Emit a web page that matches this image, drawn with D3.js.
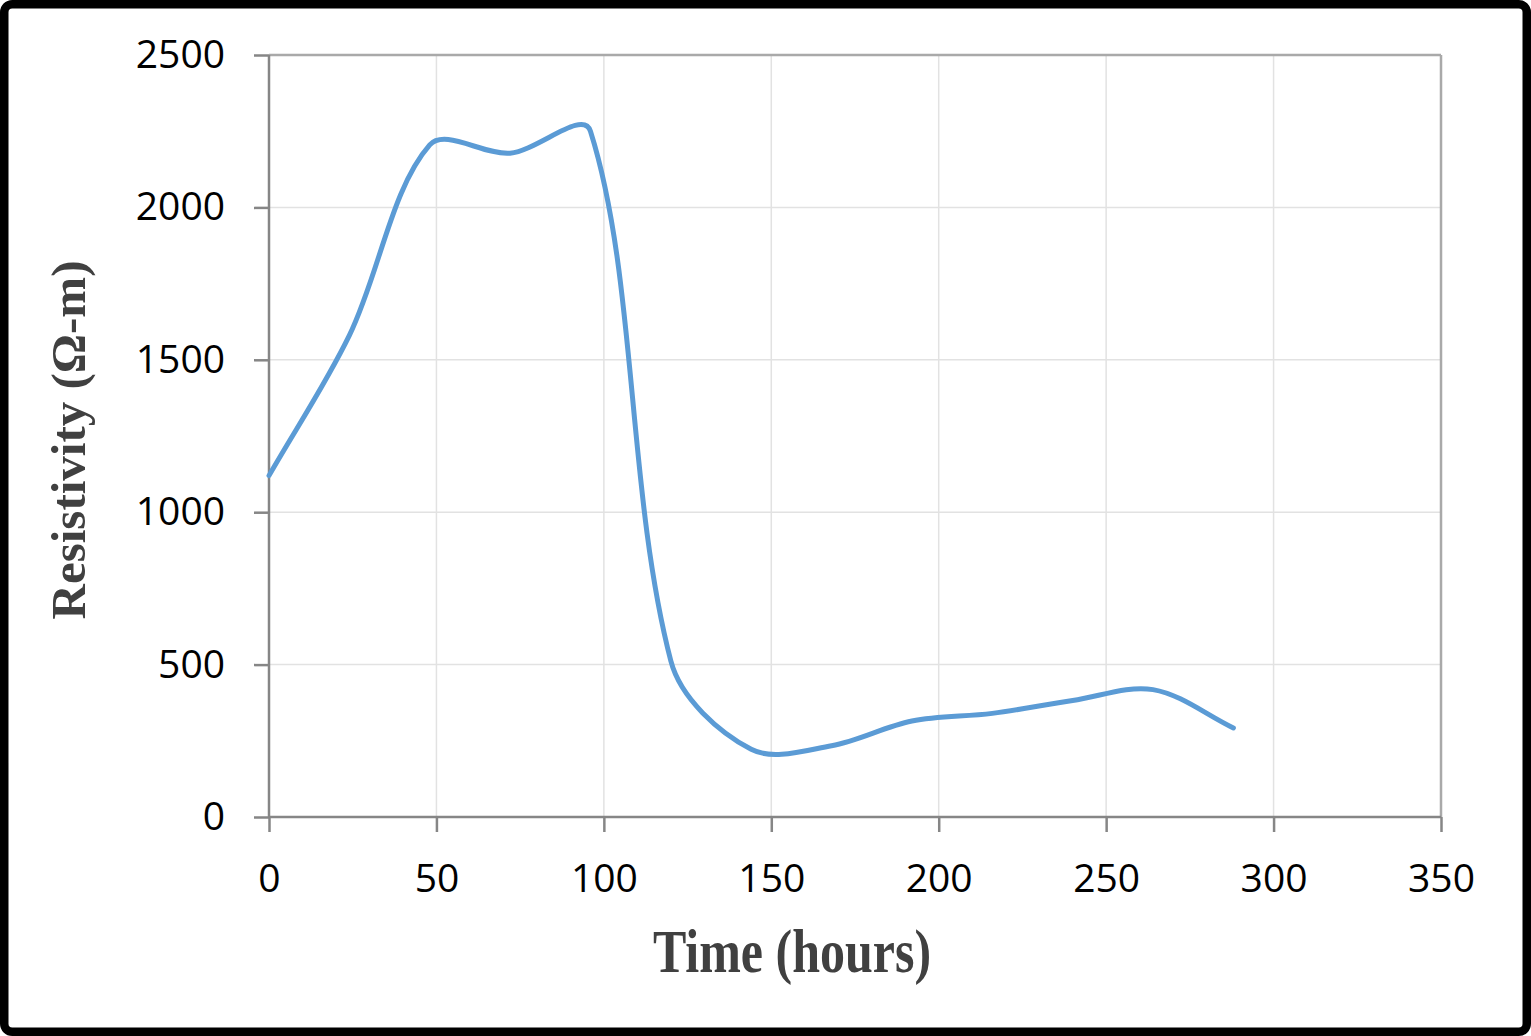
<!DOCTYPE html>
<html>
<head>
<meta charset="utf-8">
<script src="https://cdn.jsdelivr.net/npm/d3@7"></script>
<style>
  html, body { margin: 0; padding: 0; background: #fff; }
  svg { display: block; }
</style>
</head>
<body>
<svg id="chart" width="1531" height="1036"></svg>
<script>
// ---- data ----
const timeHours   = [0, 24, 48, 72, 96, 120, 144, 168, 192, 216, 240, 264, 288];
const resistivity = [1120, 1580, 2205, 2178, 2250, 512, 222, 234, 315, 340, 382, 418, 292];
const xTickValues = [0, 50, 100, 150, 200, 250, 300, 350];
const yTickValues = [0, 500, 1000, 1500, 2000, 2500];
const xTitle = "Time (hours)";
const yTitle = "Resistivity (Ω-m)";

const W = 1531, H = 1036;
const plot = { left: 269, right: 1441, top: 55, bottom: 817 };

const svg = d3.select("#chart");

// outer frame
svg.append("rect")
  .attr("x", 4.25).attr("y", 4.25)
  .attr("width", W - 8.5).attr("height", H - 8.5)
  .attr("rx", 8).attr("ry", 8)
  .attr("fill", "#fff").attr("stroke", "#000").attr("stroke-width", 8.5);

const x = d3.scaleLinear().domain([0, 350]).range([plot.left, plot.right]);
const y = d3.scaleLinear().domain([0, 2500]).range([plot.bottom, plot.top]);

// gridlines
const grid = svg.append("g");
grid.selectAll("line.v").data(xTickValues.filter(d => d > 0 && d < 350)).enter()
  .append("line")
  .attr("x1", d => x(d)).attr("x2", d => x(d))
  .attr("y1", plot.top).attr("y2", plot.bottom)
  .attr("stroke", "#e2e2e2").attr("stroke-width", 1.5);
grid.selectAll("line.h").data(yTickValues.filter(d => d > 0 && d < 2500)).enter()
  .append("line")
  .attr("x1", plot.left).attr("x2", plot.right)
  .attr("y1", d => y(d)).attr("y2", d => y(d))
  .attr("stroke", "#e2e2e2").attr("stroke-width", 1.5);

// plot border top/right
svg.append("line").attr("x1", plot.left).attr("x2", plot.right)
  .attr("y1", plot.top).attr("y2", plot.top)
  .attr("stroke", "#a9a9a9").attr("stroke-width", 2.5);
svg.append("line").attr("x1", plot.right).attr("x2", plot.right)
  .attr("y1", plot.top).attr("y2", plot.bottom)
  .attr("stroke", "#a9a9a9").attr("stroke-width", 2.5);

// axes
const xAxis = d3.axisBottom(x).tickValues(xTickValues).tickSize(15).tickPadding(32).tickFormat(d3.format("d"));
const yAxis = d3.axisLeft(y).tickValues(yTickValues).tickSize(15).tickPadding(29).tickFormat(d3.format("d"));

const gx = svg.append("g").attr("transform", `translate(0,${plot.bottom})`).call(xAxis);
const gy = svg.append("g").attr("transform", `translate(${plot.left},0)`).call(yAxis);

[gx, gy].forEach(g => {
  g.select(".domain").attr("stroke", "#868686").attr("stroke-width", 2.5);
  g.selectAll(".tick line").attr("stroke", "#868686").attr("stroke-width", 2.5);
  g.selectAll(".tick text")
    .attr("fill", "#000")
    .style("font-family", "'Open Sans', 'Noto Sans', sans-serif")
    .style("font-size", "39px");
});
gx.select(".domain").attr("d", `M${plot.left},0H${plot.right}`);
gy.select(".domain").attr("d", `M0,${plot.bottom}V${plot.top}`);
gx.selectAll(".tick text").attr("dy", "0.71em");

// data line: spreadsheet-style smoothed Bezier (chord-weighted tangents)
function smoothPath(points) {
  const p = d3.path();
  const n = points.length;
  const dist = (a, b) => Math.hypot(b[0] - a[0], b[1] - a[1]);
  p.moveTo(points[0][0], points[0][1]);
  for (let i = 0; i < n - 1; i++) {
    const p0 = points[Math.max(0, i - 1)];
    const p1 = points[i];
    const p2 = points[i + 1];
    const p3 = points[Math.min(n - 1, i + 2)];
    const d01 = dist(p0, p1), d12 = dist(p1, p2), d23 = dist(p2, p3);
    const f1 = (d01 + d12) > 0 ? (1 / 3) * d12 / (d01 + d12) : 0;
    const f2 = (d12 + d23) > 0 ? (1 / 3) * d12 / (d12 + d23) : 0;
    const c1 = [p1[0] + f1 * (p2[0] - p0[0]), p1[1] + f1 * (p2[1] - p0[1])];
    const c2 = [p2[0] - f2 * (p3[0] - p1[0]), p2[1] - f2 * (p3[1] - p1[1])];
    p.bezierCurveTo(c1[0], c1[1], c2[0], c2[1], p2[0], p2[1]);
  }
  return p.toString();
}
const pts = timeHours.map((t, i) => [x(t), y(resistivity[i])]);
svg.append("path")
  .attr("d", smoothPath(pts))
  .attr("fill", "none")
  .attr("stroke", "#5b9bd5")
  .attr("stroke-width", 5)
  .attr("stroke-linecap", "round")
  .attr("stroke-linejoin", "round");

// axis titles
svg.append("text")
  .attr("transform", "translate(792,972) scale(1,1.22)")
  .attr("text-anchor", "middle")
  .attr("fill", "#404040")
  .style("font-family", "'Liberation Serif', 'Times New Roman', serif")
  .style("font-weight", "bold")
  .style("font-size", "50px")
  .text(xTitle);

svg.append("text")
  .attr("transform", "translate(85,440) rotate(-90)")
  .attr("text-anchor", "middle")
  .attr("fill", "#404040")
  .style("font-family", "'Liberation Serif', 'Times New Roman', serif")
  .style("font-weight", "bold")
  .style("font-size", "49px")
  .text(yTitle);
</script>
</body>
</html>
